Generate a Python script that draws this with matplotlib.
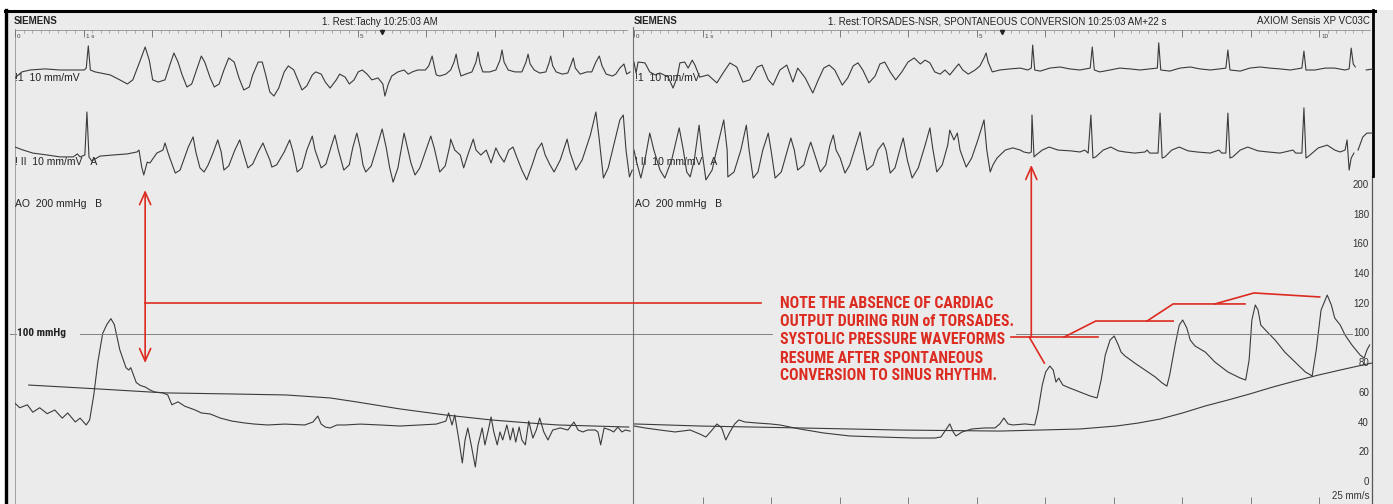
import os
import numpy as np
import matplotlib
matplotlib.use("Agg")
import matplotlib.pyplot as plt
from matplotlib.patches import Rectangle
from matplotlib import font_manager as fm
from matplotlib.font_manager import FontProperties

# ======================= DATA (time in s, ECG in mV, pressure in mmHg) =======================
lead1_left = np.array([
    [0.00,-0.29],[0.10,-0.07],[0.22,0],[0.44,0.04],[0.66,0],[1.01,0],[1.04,0.07],[1.07,0.88],[1.10,0],[1.17,-0.07],
    [1.39,-0.18],[1.53,-0.36],[1.64,-0.51],[1.72,-0.36],[1.83,0.36],[1.90,0.84],[1.96,0.36],[2.01,-0.36],[2.09,-0.44],[2.19,-0.36],
    [2.26,0.18],[2.32,0.62],[2.38,0.29],[2.44,-0.18],[2.51,-0.62],[2.58,-0.51],[2.66,0.07],[2.72,0.51],[2.77,0.29],[2.85,-0.29],
    [2.91,-0.62],[2.98,-0.51],[3.05,0],[3.12,0.44],[3.20,0.29],[3.27,-0.29],[3.34,-0.73],[3.42,-0.62],[3.47,-0.18],[3.55,0.29],
    [3.61,0.29],[3.66,-0.18],[3.72,-0.80],[3.78,-0.95],[3.85,-0.66],[3.93,-0.07],[3.99,0.15],[4.07,0],[4.13,-0.36],[4.19,-0.73],
    [4.26,-0.58],[4.34,-0.18],[4.39,-0.07],[4.47,-0.15],[4.53,-0.44],[4.60,-0.66],[4.69,-0.36],[4.74,-0.15],[4.82,-0.26],[4.88,-0.51],
    [4.95,-0.36],[5.01,-0.07],[5.07,0],[5.14,-0.15],[5.21,-0.36],[5.30,-0.29],[5.37,-0.51],[5.40,-0.95],[5.45,-0.51],[5.50,-0.22],
    [5.59,-0.07],[5.68,0],[5.74,-0.15],[5.80,-0.07],[5.88,0],[5.99,0],[6.04,0.15],[6.09,0.51],[6.12,0.15],[6.15,-0.18],
    [6.20,-0.22],[6.29,-0.15],[6.36,0],[6.41,0.29],[6.44,0.58],[6.47,0.15],[6.51,-0.22],[6.58,-0.15],[6.67,-0.07],[6.73,0.29],
    [6.76,0.66],[6.79,0.22],[6.83,-0.07],[6.93,-0.07],[7.02,0],[7.08,0.36],[7.11,0.73],[7.14,0.29],[7.20,0],[7.30,-0.07],
    [7.40,-0.07],[7.46,0.29],[7.49,0.58],[7.52,0.22],[7.58,0],[7.66,-0.11],[7.75,-0.07],[7.80,0.29],[7.82,0.51],[7.85,0.15],
    [7.90,-0.07],[7.99,-0.15],[8.07,-0.11],[8.12,0.22],[8.15,0.44],[8.18,0.07],[8.25,-0.15],[8.35,-0.07],[8.42,-0.07],[8.48,0.29],
    [8.53,0.51],[8.57,0.15],[8.63,-0.15],[8.72,-0.22],[8.77,-0.15],[8.83,0.07],[8.89,0.22],[8.93,-0.15],[8.98,-0.07]])

lead2_left = np.array([
    [0.00,0.29],[0.12,0.18],[0.26,0.07],[0.47,0],[0.66,-0.07],[0.85,-0.07],[0.91,0.04],[0.95,-0.07],[1.02,0],[1.05,1.57],
    [1.08,-0.07],[1.12,-0.22],[1.24,-0.04],[1.43,0],[1.64,0.04],[1.78,0.11],[1.81,0.18],[1.85,-0.44],[1.88,-0.73],[1.93,-0.26],
    [1.97,-0.29],[2.07,0.07],[2.16,0.18],[2.19,0.44],[2.23,0.11],[2.26,-0.11],[2.34,-0.66],[2.41,-0.55],[2.53,0.29],[2.60,0.66],
    [2.64,0.11],[2.70,-0.47],[2.76,-0.62],[2.82,-0.36],[2.89,0.07],[2.96,0.55],[3.01,0.11],[3.05,-0.55],[3.12,-0.40],[3.21,0.18],
    [3.28,0.55],[3.33,0.11],[3.40,-0.47],[3.47,-0.33],[3.55,0.11],[3.62,0.44],[3.66,0.18],[3.72,-0.18],[3.75,-0.44],[3.82,-0.36],
    [3.93,0.11],[4.01,0.55],[4.06,0.11],[4.12,-0.62],[4.19,-0.47],[4.26,0.18],[4.34,0.69],[4.38,0.18],[4.47,-0.47],[4.54,-0.33],
    [4.61,0.26],[4.67,0.73],[4.72,0.18],[4.80,-0.55],[4.88,-0.36],[4.93,0.26],[4.99,0.80],[5.04,0.26],[5.08,-0.36],[5.12,-0.62],
    [5.20,-0.40],[5.28,0.26],[5.36,0.95],[5.42,0.26],[5.47,-0.47],[5.52,-0.99],[5.59,-0.47],[5.68,0.80],[5.72,0.36],[5.78,-0.29],
    [5.84,-0.73],[5.91,-0.47],[6.00,0.18],[6.07,0.69],[6.12,0.26],[6.20,-0.62],[6.28,-0.40],[6.35,0.36],[6.36,0.58],[6.42,0.18],
    [6.50,0],[6.55,-0.47],[6.61,0],[6.69,0.58],[6.73,0.18],[6.80,0],[6.88,0.18],[6.95,-0.29],[7.02,0.26],[7.07,0],
    [7.14,-0.26],[7.21,0.18],[7.27,0.29],[7.33,-0.11],[7.40,-0.55],[7.47,-0.91],[7.55,-0.36],[7.62,0.18],[7.69,0.44],[7.74,0],
    [7.81,-0.36],[7.87,-0.62],[7.96,-0.18],[8.06,0.58],[8.10,0.11],[8.19,-0.55],[8.28,-0.18],[8.40,0.73],[8.48,1.57],[8.53,0.55],
    [8.59,-0.84],[8.66,-0.47],[8.76,0.55],[8.83,1.28],[8.88,1.46],[8.92,0.18],[8.97,-0.80],[9.01,-0.55]])

pressure_left = np.array([
    [0.00,53],[0.07,50],[0.18,52],[0.26,47],[0.36,50],[0.47,46],[0.58,48.5],[0.69,43],[0.77,46.5],[0.88,40.4],
    [0.95,43],[1.04,38.4],[1.09,41.8],[1.15,58.6],[1.21,81],[1.28,100],[1.34,106],[1.40,110],[1.45,106],[1.53,89],
    [1.62,77],[1.66,75.4],[1.69,77],[1.77,67],[1.83,65],[1.90,64],[1.97,62],[2.04,60.6],[2.16,60],[2.23,58.6],
    [2.29,52],[2.38,54],[2.48,51],[2.63,48.5],[2.72,46.5],[2.85,45.8],[3.00,43],[3.17,41],[3.36,39.7],[3.50,39],
    [3.69,38.4],[3.94,39],[4.23,38.4],[4.35,40.4],[4.42,44.4],[4.47,39],[4.53,37],[4.60,36.4],[4.70,38.4],[4.82,38.4],
    [5.04,39],[5.33,38.4],[5.62,37.7],[5.91,38.4],[6.15,39],[6.29,41],[6.33,46.5],[6.38,38.4],[6.42,45.1],[6.48,28.3],
    [6.53,12.8],[6.57,28.3],[6.61,36.4],[6.66,25],[6.72,10.1],[6.76,25],[6.82,36.4],[6.86,25],[6.91,35],[6.95,43.8],
    [6.99,33.7],[7.04,25],[7.08,33.7],[7.12,28.3],[7.18,38.4],[7.23,28.3],[7.27,36.4],[7.31,26.9],[7.36,37],[7.40,28.3],
    [7.45,25],[7.50,41],[7.56,29.6],[7.61,35],[7.66,43.1],[7.72,33.7],[7.78,28.3],[7.85,35],[7.96,36.4],[8.07,35],
    [8.16,40.4],[8.22,35],[8.29,33.7],[8.36,35],[8.47,35],[8.51,33.7],[8.55,25],[8.60,36.4],[8.69,35],[8.74,33.7],
    [8.80,37],[8.86,33.7],[8.91,35],[8.98,34.3]])

mean_left = np.array([
    [0.20,65.3],[1.24,62.6],[2.19,60],[3.14,59.3],[3.96,58.6],[4.60,56.6],[4.99,53.9],[5.62,49.2],[6.29,45.1],
    [6.95,41.8],[7.52,39.7],[7.93,38.4],[8.96,37]])

lead1_right = np.array([
    [0.00,0.29],[0.03,-0.11],[0.06,0.29],[0.16,0.26],[0.23,-0.07],[0.31,-0.18],[0.38,-0.11],[0.50,-0.26],[0.57,-0.66],[0.63,-0.26],
    [0.67,0.26],[0.74,0.29],[0.79,0.07],[0.85,0.36],[0.89,0.18],[0.96,-0.26],[1.08,-0.18],[1.21,-0.47],[1.30,-0.11],[1.40,0.26],
    [1.50,0.11],[1.59,-0.44],[1.69,-0.36],[1.80,0.11],[1.87,0.18],[1.96,-0.36],[2.03,-0.55],[2.13,0],[2.23,0.18],[2.32,-0.44],
    [2.39,0.07],[2.50,-0.29],[2.61,-0.84],[2.69,-0.36],[2.77,0.07],[2.85,0.18],[2.93,0],[3.04,-0.55],[3.12,-0.29],[3.20,0.15],
    [3.27,0.26],[3.34,0],[3.43,-0.47],[3.52,-0.22],[3.59,0.22],[3.66,0.29],[3.74,-0.07],[3.82,-0.36],[3.91,-0.07],[4.00,0.29],
    [4.09,0.44],[4.18,0.22],[4.25,0.36],[4.32,0.26],[4.39,-0.07],[4.47,-0.15],[4.54,0],[4.61,-0.18],[4.69,0.07],[4.74,0.22],
    [4.80,0],[4.88,-0.15],[4.98,0],[5.05,0.15],[5.11,0.44],[5.14,0.62],[5.17,0.29],[5.23,-0.07],[5.34,0],[5.49,0.04],
    [5.64,0.07],[5.75,0],[5.80,0.07],[5.82,0.91],[5.85,0],[5.93,-0.04],[6.07,0.07],[6.22,0.11],[6.36,0.04],[6.51,0],
    [6.66,0.07],[6.69,0.84],[6.72,0],[6.80,-0.07],[6.95,0],[7.09,0.07],[7.24,0.04],[7.39,0],[7.53,0.04],[7.64,0.07],
    [7.66,0.99],[7.69,0],[7.82,-0.04],[7.97,0.07],[8.12,0.11],[8.26,0.04],[8.41,0],[8.55,0.04],[8.64,0.07],[8.67,0.73],
    [8.70,0],[8.85,-0.04],[8.99,0.07],[9.14,0.11],[9.28,0.07],[9.43,0.04],[9.58,0],[9.75,0.07],[9.78,0.69],[9.81,0],
    [9.94,0],[10.09,0.07],[10.23,0.07],[10.38,0],[10.44,0.04],[10.47,0.80],[10.50,0.22],[10.53,0.11],[np.nan,np.nan],
    [10.69,0],[10.79,0.04]])

lead2_right = np.array([
    [0.00,0.18],[0.03,-0.18],[0.10,-0.84],[0.16,-0.18],[0.23,0.80],[0.29,0.18],[0.38,-0.55],[0.45,-0.84],[0.55,-0.18],[0.66,0.99],
    [0.72,0.18],[0.77,-0.62],[0.82,-0.80],[0.88,-0.18],[0.95,1.09],[0.99,0.18],[1.05,-0.91],[1.14,-0.55],[1.24,0.55],[1.31,1.28],
    [1.36,0.18],[1.37,-0.80],[1.46,-0.62],[1.56,0.18],[1.64,1.09],[1.68,0.18],[1.74,-0.84],[1.81,-0.62],[1.88,0.18],[1.96,0.80],
    [2.00,0.18],[2.06,-0.84],[2.15,-0.62],[2.22,0],[2.29,0.62],[2.34,0.18],[2.39,-0.55],[2.48,-0.36],[2.54,0.18],[2.58,0.47],
    [2.64,0],[2.72,-0.62],[2.80,-0.36],[2.86,0.36],[2.91,0.73],[2.95,0.18],[3.01,-0.11],[3.08,-0.66],[3.15,-0.36],[3.24,0.36],
    [3.30,0.84],[3.34,0.26],[3.40,-0.55],[3.49,-0.36],[3.56,0.18],[3.64,0.44],[3.68,0.18],[3.74,-0.66],[3.81,-0.47],[3.88,0.18],
    [3.93,0.62],[3.99,-0.18],[4.06,-0.84],[4.15,-0.47],[4.25,0.36],[4.32,0.99],[4.36,0.26],[4.42,-0.62],[4.50,-0.36],[4.58,0.36],
    [4.61,0.91],[4.67,0.55],[4.72,0.80],[4.76,0.18],[4.85,-0.44],[4.93,-0.11],[5.02,0.55],[5.11,1.28],[5.15,0.18],[5.20,-0.62],
    [5.24,-0.36],[5.30,-0.11],[5.42,0.18],[5.53,0.26],[5.64,0.18],[5.69,0.11],[5.77,0.07],[5.80,0.11],[5.81,1.46],[5.84,-0.07],
    [5.87,0],[5.96,0.18],[6.06,0.29],[6.19,0.18],[6.38,0.15],[6.51,0.11],[6.58,0.18],[6.63,0.07],[6.67,1.46],[6.70,-0.11],
    [6.74,-0.07],[6.85,0.18],[6.96,0.29],[7.07,0.15],[7.17,0.11],[7.31,0.07],[7.46,0.11],[7.49,0.18],[7.53,0.07],[7.65,0.07],
    [7.68,1.53],[7.71,-0.11],[7.75,-0.07],[7.85,0.18],[7.96,0.29],[8.09,0.15],[8.22,0.11],[8.41,0.07],[8.54,0.18],[8.58,0.07],
    [8.64,0.07],[8.67,1.53],[8.70,-0.11],[8.74,-0.07],[8.85,0.18],[8.96,0.29],[9.11,0.15],[9.26,0.11],[9.43,0.07],[9.62,0.18],
    [9.66,0.07],[9.75,0.07],[9.78,1.72],[9.81,-0.11],[9.85,-0.04],[9.99,0.26],[10.12,0.36],[10.23,0.18],[10.31,0.11],[10.38,0.18],
    [10.41,0.55],[10.44,-0.55],[10.47,-0.11],[10.51,0.07],[np.nan,np.nan],[10.57,0.18],[10.64,0.66],[10.70,0.80],[10.79,0.80]])

pressure_right = np.array([
    [0.00,37.7],[0.16,36.4],[0.38,35],[0.60,33.7],[0.82,35],[0.96,32.3],[1.05,30.3],[1.14,35],[1.21,39.1],[1.28,36.4],
    [1.34,28.3],[1.40,33.7],[1.47,39.1],[1.53,41.8],[1.62,40.4],[1.80,39.7],[1.99,39.1],[2.13,38.4],[2.42,35.7],[2.77,33],
    [3.15,31],[3.59,30.3],[4.09,29.6],[4.39,29.6],[4.48,30.3],[4.55,35],[4.61,39.1],[4.66,33.7],[4.70,31],[4.79,33.7],
    [4.93,35.7],[5.12,36.4],[5.27,36.4],[5.34,39.1],[5.40,43.1],[5.46,39.1],[5.53,38.4],[5.71,39.1],[5.85,38.4],[5.90,48.5],
    [5.96,65.3],[6.01,74.1],[6.07,78.1],[6.12,75.4],[6.16,67.3],[6.20,70],[6.26,65.3],[6.36,63.3],[6.51,60.6],[6.66,57.9],
    [6.76,56.6],[6.82,68.7],[6.88,85.5],[6.95,95.6],[7.01,98.3],[7.07,92.3],[7.11,87.5],[7.17,84.8],[7.31,80.1],[7.46,75.4],
    [7.61,70.7],[7.71,66.7],[7.78,64.6],[7.82,72],[7.90,92.3],[7.96,105.7],[8.01,109.1],[8.07,103.7],[8.12,95.6],[8.19,91.6],
    [8.34,87.5],[8.48,80.8],[8.67,74.1],[8.85,70],[8.93,68.7],[8.98,82.2],[9.02,109.1],[9.07,119.2],[9.11,115.8],[9.15,105.7],
    [9.26,100.3],[9.36,95.6],[9.50,87.5],[9.65,80.8],[9.80,74.1],[9.90,71.4],[9.96,88.9],[10.03,115.8],[10.12,125.9],[10.18,119.2],
    [10.23,110.4],[10.31,105.7],[10.38,99],[10.48,92.3],[10.60,85.5],[10.66,83.5],[10.70,88.9],[10.74,92.3]])

mean_right = np.array([
    [0.00,39.1],[0.96,37.7],[2.42,36.4],[3.88,35],[5.34,34.3],[5.93,35],[6.51,35.7],[7.04,37.7],[7.36,39.7],[7.68,42.4],
    [8.01,46.5],[8.34,51.2],[8.67,55.2],[8.99,59.3],[9.33,64],[9.65,68],[9.99,72],[10.31,75.4],[10.64,78.8],[10.77,80.1]])

pressure_ticks = [200, 180, 160, 140, 120, 100, 80, 60, 40, 20, 0]
ruler_labels_left = [(0, "0"), (1, "1 s"), (5, "5")]
ruler_labels_right = [(0, "0"), (1, "1 s"), (5, "5"), (10, "10")]
note_lines = ["NOTE THE ABSENCE OF CARDIAC", "OUTPUT DURING RUN of TORSADES.",
              "SYSTOLIC PRESSURE WAVEFORMS", "RESUME AFTER SPONTANEOUS",
              "CONVERSION TO SINUS RHYTHM."]

# ======================= LAYOUT / STYLE =======================
W, H, DPI = 1393, 504, 100
PX_PER_S = 68.5
PX_PER_MV = 27.4
PX_PER_MMHG = 1.485
ZERO_MMHG_PX = 482
TOP_PX, BOT_PX = 10, 504
LEFT_X0, LEFT_X1 = 15, 633
RIGHT_X0, RIGHT_X1 = 634, 1373
LEAD1_BASE, LEAD2_BASE = 70, 155
NOTE_WIDTHS_PX = [224, 247, 219, 199, 210]   # rendered widths of the red note lines

TRACE = '#3b3b3b'
RED = '#dc2b20'
PAPER = '#ebebeb'
GRAY = '#808080'

plt.rcParams['font.family'] = ['Liberation Sans', 'DejaVu Sans']


def condensed_bold_path():
    files = {}
    for f in fm.fontManager.ttflist:
        files[os.path.basename(f.fname).lower()] = f.fname
    prefs = ['liberationsansnarrow-bold.', 'arialnarrow-bold', 'arial narrow bold', 'robotocondensed-bold.',
             'roboto-condensedbold', 'notosans-condensedbold.', 'opensans-condensedbold.',
             'opensans_condensed-bold', 'dejavusanscondensed-bold.']
    for p in prefs:
        for k, v in files.items():
            if k.startswith(p):
                return v
    for k, v in files.items():
        if ('condensed' in k or 'narrow' in k) and 'bold' in k and not any(
                s in k for s in ('italic', 'oblique', 'mono', 'semi', 'extra', 'light', 'black', 'serif')):
            return v
    return None


CPATH = condensed_bold_path()


def bold_props(size):
    if CPATH:
        return FontProperties(fname=CPATH, size=size)
    return FontProperties(family='Liberation Sans', weight='bold', size=size)


fig = plt.figure(figsize=(W / DPI, H / DPI), dpi=DPI, facecolor='white')
renderer = fig.canvas.get_renderer()


def text_width(text, size):
    probe = fig.text(0, 0, text, fontproperties=bold_props(size))
    w = probe.get_window_extent(renderer).width
    probe.remove()
    return w


def fitted_size(texts, targets, start=12.0):
    total = sum(text_width(t, start) for t in texts)
    return start * sum(targets) / total


bg = fig.add_axes([0, 0, 1, 1])
bg.set_xlim(0, W)
bg.set_ylim(H, 0)
bg.axis('off')
bg.add_patch(Rectangle((6, 10), W - 6, H - 10, facecolor=PAPER, edgecolor='none'))


def frac(px):
    return (BOT_PX - px) / (BOT_PX - TOP_PX)


def make_axes(x0, x1, base_px, px_per_unit):
    ax = fig.add_axes([x0 / W, 1 - BOT_PX / H, (x1 - x0) / W, (BOT_PX - TOP_PX) / H])
    ax.set_xlim(0, (x1 - x0) / PX_PER_S)
    ax.set_ylim((base_px - BOT_PX) / px_per_unit, (base_px - TOP_PX) / px_per_unit)
    ax.axis('off')
    ax.patch.set_visible(False)
    return ax


axes = {}
for name, (x0, x1) in {'L': (LEFT_X0, LEFT_X1), 'R': (RIGHT_X0, RIGHT_X1)}.items():
    axes[name] = dict(P=make_axes(x0, x1, ZERO_MMHG_PX, PX_PER_MMHG),
                      I=make_axes(x0, x1, LEAD1_BASE, PX_PER_MV),
                      II=make_axes(x0, x1, LEAD2_BASE, PX_PER_MV))

# ---- traces
tr_kw = dict(color=TRACE, lw=0.8, solid_joinstyle='round')
axes['L']['I'].plot(lead1_left[:, 0], lead1_left[:, 1], **tr_kw)
axes['L']['II'].plot(lead2_left[:, 0], lead2_left[:, 1], **tr_kw)
axes['L']['P'].plot(pressure_left[:, 0], pressure_left[:, 1], **tr_kw)
axes['L']['P'].plot(mean_left[:, 0], mean_left[:, 1], **tr_kw)
axes['R']['I'].plot(lead1_right[:, 0], lead1_right[:, 1], **tr_kw)
axes['R']['II'].plot(lead2_right[:, 0], lead2_right[:, 1], **tr_kw)
axes['R']['P'].plot(pressure_right[:, 0], pressure_right[:, 1], **tr_kw)
axes['R']['P'].plot(mean_right[:, 0], mean_right[:, 1], **tr_kw)

# ---- 100 mmHg reference line
aL, aR = axes['L']['P'], axes['R']['P']
aL.plot([0.95, (LEFT_X1 - LEFT_X0) / PX_PER_S], [100, 100], color=GRAY, lw=0.7)
aR.plot([0, 2.02], [100, 100], color=GRAY, lw=0.7)
aR.plot([5.58, 10.48], [100, 100], color=GRAY, lw=0.7)
bg.plot([10, 16], [333.5, 333.5], color=GRAY, lw=0.7)

# ---- pressure scale on right
for p in pressure_ticks:
    aR.text(10.73, p, str(p), ha='right', va='center', fontsize=7, color='#333333')
aR.text(10.73, -9.5, "25 mm/s", ha='right', va='center', fontsize=7, color='#333333')
trx = aR.get_xaxis_transform()
aR.vlines(np.arange(1, 11), frac(BOT_PX), frac(BOT_PX - 7), color=GRAY, lw=0.7, transform=trx)


# ---- time rulers
def ruler(ax, tmax, labels, marker_t):
    tr = ax.get_xaxis_transform()
    ax.plot([0, tmax], [frac(30), frac(30)], color='#909090', lw=0.6, transform=tr, clip_on=False)
    ax.vlines(np.arange(0, tmax, 0.125), frac(33), frac(30), color='#909090', lw=0.5, transform=tr)
    ax.vlines(np.arange(0, tmax, 1.0), frac(37), frac(30), color='#707070', lw=0.6, transform=tr)
    for t, s in labels:
        ax.text(t + 0.03, frac(36), s, transform=tr, fontsize=4.5, ha='left', va='center', color='#444444')
    ax.plot([marker_t], [frac(31.5)], marker='v', ms=3, color='#222222', transform=tr, clip_on=False)


ruler(aL, (627 - LEFT_X0) / PX_PER_S, ruler_labels_left, 5.36)
ruler(aR, (1370 - RIGHT_X0) / PX_PER_S, ruler_labels_right, 5.37)

# ---- panel frames and border
bg.plot([15, 15], [29, 504], color='#a0a0a0', lw=0.7)
bg.plot([632.5, 632.5], [27, 504], color='#707070', lw=0.8)
bg.plot([1372, 1372], [176, 504], color='#555555', lw=0.9)
bg.plot([1373, 1373], [10, 176], color='black', lw=2.0)
bg.plot([5, 1374.5], [10.5, 10.5], color='black', lw=2.2)
bg.plot([6, 6], [10, 504], color='black', lw=2.4)

# ---- header texts
hdr = dict(fontsize=7, va='center', color='#222222')
bg.text(14, 21, "SIEMENS", fontweight='bold', ha='left', **hdr)
bg.text(634, 21, "SIEMENS", fontweight='bold', ha='left', **hdr)
bg.text(380, 22, "1. Rest:Tachy 10:25:03 AM", ha='center', **hdr)
bg.text(997, 22, "1. Rest:TORSADES-NSR, SPONTANEOUS CONVERSION 10:25:03 AM+22 s", ha='center', **hdr)
bg.text(1370, 21, "AXIOM Sensis XP VC03C", ha='right', **hdr)

lab = dict(fontsize=7.5, va='center', ha='left', color='#222222')
for x in (15, 635):
    bg.text(x, 78, "!1  10 mm/mV", **lab)
    bg.text(x, 162, "! II  10 mm/mV   A", **lab)
    bg.text(x, 204, "AO  200 mmHg   B", **lab)
bg.text(17, 333, "100 mmHg", fontproperties=bold_props(fitted_size(["100 mmHg"], [49])),
        va='center', ha='left', color='#222222')

# ---- red annotations (data coordinates of the pressure axes)
red = dict(color=RED, lw=1.2, clip_on=False)
arrow_kw = dict(color=RED, lw=1.2, shrinkA=0, shrinkB=0, mutation_scale=20)
aL.annotate('', xy=(1.90, 196.6), xytext=(1.90, 80.1),
            arrowprops=dict(arrowstyle='<->,head_length=0.45,head_width=0.2', **arrow_kw), annotation_clip=False)
aL.plot([1.90, 10.89], [120.5, 120.5], **red)
aR.annotate('', xy=(5.80, 213.5), xytext=(5.80, 97.6),
            arrowprops=dict(arrowstyle='->,head_length=0.45,head_width=0.2', **arrow_kw), annotation_clip=False)
aR.plot([5.50, 6.77], [97.6, 97.6], **red)
aR.plot([5.77, 5.99], [97.6, 80.1], **red)
aR.plot([6.28, 6.74, 7.87], [97.6, 108.4, 108.4], **red)
aR.plot([7.49, 7.87, 8.92], [108.4, 119.9, 119.9], **red)
aR.plot([8.48, 9.05, 10.01], [119.9, 127.3, 124.6], **red)

note_size = fitted_size(note_lines, NOTE_WIDTHS_PX)
for line, p in zip(note_lines, [120.5, 108.1, 96.0, 83.5, 71.4]):
    aR.text(2.13, p, line, color=RED, fontproperties=bold_props(note_size), ha='left', va='center')

fig.savefig("out.png", dpi=DPI, facecolor='white')
